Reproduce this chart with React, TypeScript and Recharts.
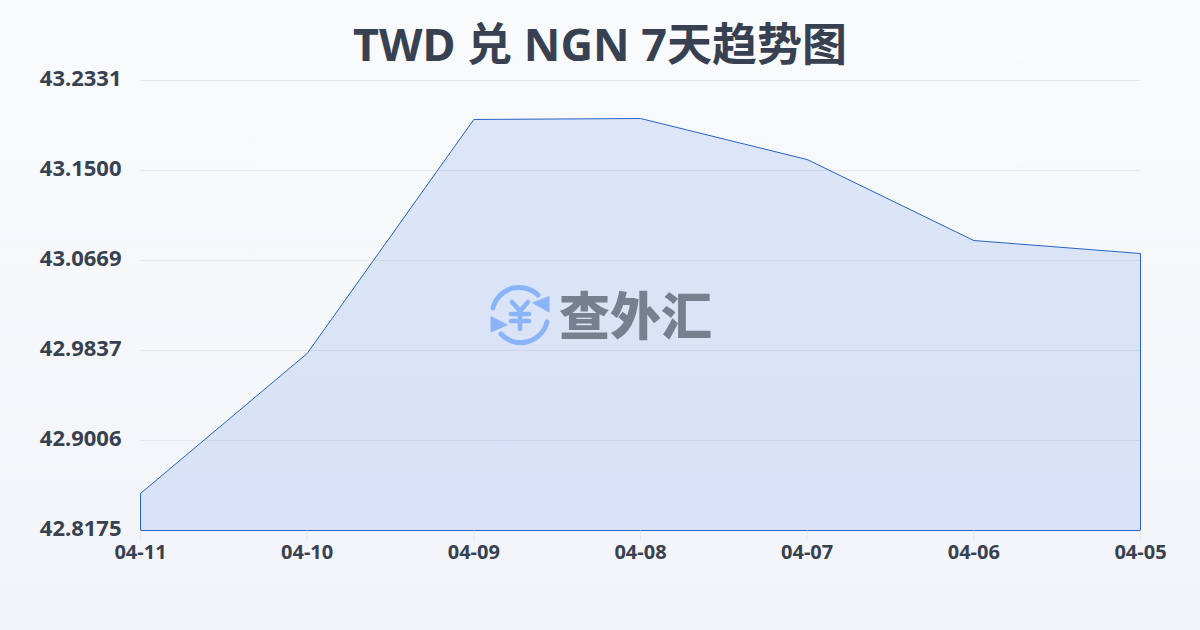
import { Area, AreaChart, CartesianGrid, ReferenceLine, XAxis, YAxis } from 'recharts';

const FONT = '"Noto Sans", "Noto Sans CJK SC", sans-serif';

const dates = ['04-11', '04-10', '04-09', '04-08', '04-07', '04-06', '04-05'];
const rates = [42.8517, 42.981, 43.1971, 43.198, 43.1601, 43.0853, 43.0733];
const yTicks = [42.8175, 42.9006, 42.9837, 43.0669, 43.15, 43.2331];

const chartData = dates.map((date, i) => ({
  date,
  range: [yTicks[0], rates[i]],
}));

const last = dates.length - 1;

export default function App() {
  return (
    <div
      style={{
        position: 'absolute',
        left: 0,
        top: 0,
        width: 1200,
        height: 630,
        overflow: 'hidden',
        fontFamily: FONT,
        background: 'linear-gradient(180deg, #f9fafc 0%, #f3f4f7 100%)',
      }}
    >
      <div
        style={{
          position: 'absolute',
          top: 11,
          left: 0,
          width: 1200,
          textAlign: 'center',
          fontSize: 45,
          lineHeight: '66px',
          fontWeight: 700,
          color: '#374151',
        }}
      >
        TWD 兑 NGN 7天趋势图
      </div>
      <AreaChart
        width={1200}
        height={630}
        data={chartData}
        margin={{ top: 80.5, right: 59.5, bottom: 69.5, left: 0 }}
        style={{ position: 'absolute', left: 0, top: 0 }}
      >
        <CartesianGrid vertical={false} stroke="#e5e7eb" strokeWidth={1} />
        <XAxis
          dataKey="date"
          interval={0}
          height={30}
          axisLine={{ stroke: '#2563c8' }}
          tickLine={{ stroke: '#e5e7eb' }}
          tickSize={10}
          tickMargin={4}
          tick={{ fontSize: 20, fontWeight: 700, fill: '#374151', fontFamily: FONT }}
        />
        <YAxis
          width={140.5}
          domain={[yTicks[0], yTicks[5]]}
          ticks={yTicks}
          interval={0}
          axisLine={false}
          tickLine={false}
          tickMargin={13}
          tickFormatter={(v: number) => v.toFixed(4)}
          tick={{ fontSize: 22, fontWeight: 700, fill: '#374151', fontFamily: FONT, dy: -2 }}
        />
        <Area
          type="linear"
          dataKey="range"
          stroke="#2563c8"
          strokeWidth={1}
          fill="#2563eb"
          fillOpacity={0.13}
          dot={false}
          activeDot={false}
          isAnimationActive={false}
        />
        <ReferenceLine
          segment={[
            { x: dates[0], y: yTicks[0] },
            { x: dates[0], y: rates[0] },
          ]}
          stroke="#2563c8"
          strokeWidth={1}
        />
        <ReferenceLine
          segment={[
            { x: dates[last], y: yTicks[0] },
            { x: dates[last], y: rates[last] },
          ]}
          stroke="#2563c8"
          strokeWidth={1}
        />
      </AreaChart>
      {/* watermark */}
      <svg
        width={64}
        height={64}
        viewBox="0 0 64 64"
        style={{ position: 'absolute', left: 488, top: 283 }}
        fill="none"
        stroke="#8ab4f8"
        strokeLinecap="round"
      >
        <path d="M5 25 A27 27 0 0 1 50 12" strokeWidth={5} />
        <path d="M59 39 A27 27 0 0 1 13 51" strokeWidth={5} />
        <path d="M61 14 L61 29 L45 20 Z" fill="#8ab4f8" stroke="#8ab4f8" strokeWidth={1} strokeLinejoin="round" />
        <path d="M3 34 L3 49 L19 42 Z" fill="#8ab4f8" stroke="#8ab4f8" strokeWidth={1} strokeLinejoin="round" />
        <path d="M24 19 L32 28 L40 19 M32 28 L32 46 M23 31 L41 31 M23 38 L41 38" strokeWidth={4.5} />
      </svg>
      <div
        style={{
          position: 'absolute',
          left: 559,
          top: 279,
          fontSize: 51,
          lineHeight: '72px',
          fontWeight: 900,
          color: '#77808f',
          whiteSpace: 'nowrap',
        }}
      >
        查外汇
      </div>
    </div>
  );
}
